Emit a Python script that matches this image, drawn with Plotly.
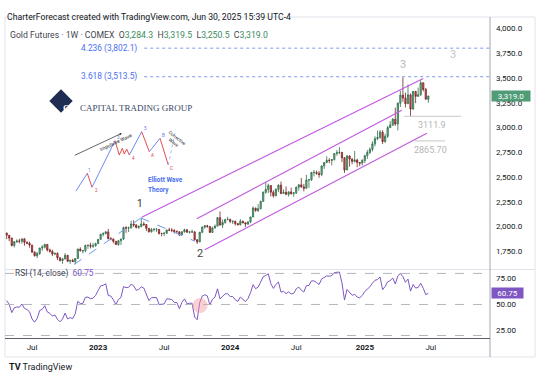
import numpy as np
import pandas as pd
import plotly.graph_objects as go

W, H = 540, 383
FONT = "Roboto, 'Liberation Sans', sans-serif"
SERIF = "'Liberation Serif', 'DejaVu Serif', serif"

# ---------------- data (weekly Gold Futures, COMEX) ----------------
first_week = "2022-04-25"
opens = [1934,1911,1883,1808,1846,1853,1850,1875,1840,1830,
         1812,1742,1704,1727,1782,1791,1818,1762,1749,1721,
         1728,1684,1655,1672,1709,1648,1657,1645,1676,1771,
         1754,1755,1809,1810,1800,1804,1826,1870,1921,1928,
         1945,1877,1874,1850,1817,1856,1874,1989,1983,1986,
         2025,2016,1990,1999,2025,2019,1981,1946,1969,1970,
         1970,1929,1929,1932,1964,1962,1960,1946,1946,1916,
         1947,1966,1942,1945,1945,1866,1845,1941,1994,2006,
         1999,1940,1984,2003,2089,2014,2041,2069,2071,2050,
         2051,2029,2018,2053,2038,2024,2046,2096,2186,2161,
         2180,2254,2345,2374,2413,2347,2311,2375,2418,2334,
         2345,2325,2349,2332,2339,2397,2421,2399,2386,2470,
         2472,2546,2546,2536,2524,2611,2646,2668,2667,2676,
         2737,2746,2749,2694,2571,2712,2681,2657,2672,2646,
         2640,2667,2715,2748,2779,2835,2887,2900,2953,2858,
         2911,2999,3026,3084,3035,3245,3328,3298,3241,3330,
         3187,3365,3315,3331,3452,3385,3284.3]
highs = [1937,1911,1884,1850,1870,1876,1877,1881,1848,1846,
         1812,1747,1742,1784,1812,1826,1824,1776,1766,1735,
         1738,1688,1682,1730,1712,1664,1674,1681,1776,1790,
         1763,1815,1815,1835,1834,1836,1871,1923,1941,1954,
         1975,1892,1875,1853,1862,1875,1998,2003,1998,2058,
         2063,2022,2010,2085,2048,2025,1985,1985,1985,1985,
         1965,1936,1942,1968,1987,1984,1972,1960,1950,1950,
         1978,1972,1953,1967,1953,1870,1945,2000,2016,2017,
         2005,1997,2019,2096,2152,2070,2078,2098,2079,2063,
         2060,2036,2075,2059,2038,2052,2098,2203,2190,2225,
         2259,2354,2448,2432,2417,2366,2385,2425,2454,2375,
         2404,2356,2393,2349,2402,2426,2490,2431,2522,2478,
         2549,2570,2565,2560,2618,2649,2709,2690,2678,2740,
         2772,2801,2753,2700,2721,2720,2690,2762,2684,2651,
         2681,2726,2772,2799,2862,2911,2968,2975,2972,2937,
         3017,3066,3095,3201,3255,3371,3509,3354,3435,3345,
         3367,3370,3404,3476,3453,3400,3319.5]
lows = [1872,1851,1797,1787,1833,1828,1825,1805,1821,1785,
        1732,1697,1680,1713,1754,1777,1747,1736,1700,1710,
        1660,1646,1622,1667,1640,1622,1641,1617,1674,1748,
        1728,1738,1775,1778,1784,1797,1823,1866,1900,1920,
        1870,1860,1830,1815,1805,1813,1863,1935,1944,1979,
        1995,1979,1975,1992,2004,1953,1939,1938,1949,1945,
        1918,1900,1902,1925,1954,1942,1929,1940,1903,1912,
        1937,1935,1928,1934,1858,1823,1840,1932,1975,1987,
        1935,1937,1980,2003,2010,1983,2027,2063,2034,2024,
        2009,2010,2010,2031,1993,2016,2033,2093,2148,2146,
        2174,2247,2331,2337,2303,2291,2304,2347,2326,2330,
        2316,2302,2321,2300,2327,2362,2392,2354,2382,2390,
        2460,2506,2523,2493,2508,2581,2640,2640,2617,2666,
        2714,2729,2650,2541,2569,2605,2629,2647,2599,2609,
        2616,2640,2683,2733,2758,2810,2872,2887,2833,2846,
        2895,2997,3014,3016,2971,3207,3260,3202,3237,3112,
        3180,3246,3310,3321,3364,3281,3250.5]
closes = [1911,1883,1808,1846,1853,1850,1875,1840,1830,1812,
          1742,1704,1727,1782,1791,1818,1762,1749,1721,1728,
          1684,1655,1672,1709,1648,1657,1645,1676,1771,1754,
          1755,1809,1810,1800,1804,1826,1870,1921,1928,1945,
          1877,1874,1850,1817,1856,1874,1989,1983,1986,2025,
          2016,1990,1999,2025,2019,1981,1946,1969,1970,1970,
          1929,1929,1932,1964,1962,1960,1946,1946,1916,1947,
          1966,1942,1945,1945,1866,1845,1941,1994,2006,1999,
          1940,1984,2003,2089,2014,2041,2069,2071,2050,2051,
          2029,2018,2053,2038,2024,2046,2096,2186,2161,2180,
          2254,2345,2374,2413,2347,2311,2375,2418,2334,2345,
          2325,2349,2332,2339,2397,2421,2399,2386,2470,2472,
          2546,2546,2536,2524,2611,2646,2668,2667,2676,2737,
          2746,2749,2694,2571,2712,2681,2657,2672,2646,2640,
          2667,2715,2748,2779,2835,2887,2900,2953,2858,2911,
          2999,3026,3084,3035,3245,3328,3298,3241,3330,3187,
          3365,3315,3331,3452,3385,3287,3319.0]
# weekly closes before the visible window (Jul 2021 - Apr 2022), used only to warm up RSI(14)
rsi_history_closes = [1808,1815,1802,1817,1763,1781,1784,1819,1833,1792,1754,1751,1761,
                      1757,1768,1796,1783,1818,1868,1852,1788,1784,1783,1805,1811,1829,
                      1798,1817,1835,1787,1808,1842,1899,1889,1969,1985,1921,1958,1924,
                      1946,1974,1934]
rsi_last_display = 60.75

price_ticks = [1750, 2000, 2250, 2500, 2750, 3000, 3250, 3500, 3750, 4000]
rsi_ticks = [25, 50, 75]
rsi_bands = [80, 50, 20]
time_tick_dates = ["2022-07-04", "2023-01-02", "2023-07-03", "2024-01-01",
                   "2024-07-01", "2025-01-06", "2025-07-07"]
time_tick_labels = ["Jul", "<b>2023</b>", "Jul", "<b>2024</b>", "Jul", "<b>2025</b>", "Jul"]

fib_levels = [("4.236", 3802.1), ("3.618", 3513.5)]
fib_start = "2023-05-09"
channel_lines = [  # (date0, price0, date1, price1)
    ("2023-05-02", 2094, "2025-06-16", 3496),
    ("2023-10-01", 2078, "2025-04-18", 3175),
    ("2023-10-23", 1764, "2025-06-26", 2942),
]
wave_path = [("2022-10-28", 1616), ("2023-04-30", 2086), ("2023-09-26", 1851)]
wave_labels = [("1", "2023-04-28", 2233, 10, "#333333"),
               ("2", "2023-10-10", 1727, 11, "#444444"),
               ("3", "2025-04-21", 3638, 11, "#b8b8b8"),
               ("3", "2025-09-05", 3743, 11, "#c4c4c4")]
level_lines = [(3111.9, "3111.9", "2025-04-24", "2025-09-28", "2025-07-10"),
               (2865.7, "2865.70", "2025-05-24", "2025-08-15", "2025-07-05")]

x_range = ["2022-04-20 10:00", "2025-12-17"]
y_range = [1565, 4117]
rsi_range = [17.1, 83.3]

dates = pd.date_range(first_week, periods=len(closes), freq="7D")


def rsi_wilder(values, period=14):
    v = np.asarray(values, float)
    d = np.diff(v)
    gain = np.clip(d, 0, None)
    loss = np.clip(-d, 0, None)
    ag = gain[:period].mean()
    al = loss[:period].mean()
    out = [np.nan] * period
    out.append(100 - 100 / (1 + ag / al))
    for i in range(period, len(d)):
        ag = (ag * (period - 1) + gain[i]) / period
        al = (al * (period - 1) + loss[i]) / period
        out.append(100.0 if al == 0 else 100 - 100 / (1 + ag / al))
    return np.array(out)


rsi_all = rsi_wilder(rsi_history_closes + closes)
rsi = rsi_all[len(rsi_history_closes):]


def px(x):
    return x / W


def py(y):
    return 1 - y / H


fig = go.Figure()
fig.add_trace(go.Candlestick(
    x=dates, open=opens, high=highs, low=lows, close=closes,
    xaxis="x", yaxis="y", whiskerwidth=0,
    increasing=dict(line=dict(color="#2f6f4d", width=0.8), fillcolor="#73b08e"),
    decreasing=dict(line=dict(color="#7a2222", width=0.8), fillcolor="#d85a56"),
    hoverinfo="skip", showlegend=False))
fig.add_trace(go.Scatter(x=dates, y=rsi, xaxis="x2", yaxis="y2", mode="lines",
                         line=dict(color="#7e57c2", width=1), hoverinfo="skip", showlegend=False))

shapes = []
ann = []

# frame and separators
shapes.append(dict(type="rect", xref="paper", yref="paper", x0=px(5), x1=px(535), y0=py(357), y1=py(17),
                   line=dict(color="#e0e3eb", width=1)))
shapes.append(dict(type="line", xref="paper", yref="paper", x0=px(5), x1=px(535), y0=py(269.5), y1=py(269.5),
                   line=dict(color="#e0e3eb", width=1)))
shapes.append(dict(type="line", xref="paper", yref="paper", x0=px(490), x1=px(490), y0=py(357), y1=py(17),
                   line=dict(color="#a3a6af", width=1)))
shapes.append(dict(type="line", xref="paper", yref="paper", x0=px(5), x1=px(490), y0=py(338.5), y1=py(338.5),
                   line=dict(color="#5d606b", width=1)))

# RSI bands
for b in rsi_bands:
    shapes.append(dict(type="line", xref="paper", yref="y2", x0=px(5), x1=px(490), y0=b, y1=b,
                       line=dict(color="#b2b5be", width=1, dash="dash")))
# pink highlight circle on RSI
shapes.append(dict(type="circle", xref="x", yref="y2", xsizemode="pixel", ysizemode="pixel",
                   xanchor="2023-10-10", yanchor=49, x0=-7.5, x1=7.5, y0=-7.5, y1=7.5,
                   fillcolor="rgba(242,150,160,0.45)", line=dict(width=0)))

# Fibonacci extension levels
for lab, lvl in fib_levels:
    shapes.append(dict(type="line", xref="x", yref="y", x0=fib_start, x1=x_range[1], y0=lvl, y1=lvl,
                       line=dict(color="#7f9cf3", width=1, dash="dot")))
    ann.append(dict(xref="paper", yref="y", x=px(139), y=lvl, xanchor="right", yanchor="middle",
                    text=f"{lab} ({lvl:,.1f})", showarrow=False,
                    font=dict(size=8.4, color="#4a6ff0", family=FONT)))

# channel lines
for d0, p0, d1, p1 in channel_lines:
    shapes.append(dict(type="line", xref="x", yref="y", x0=d0, y0=p0, x1=d1, y1=p1,
                       line=dict(color="#c158e0", width=1.1)))
# wave 1-2 dashed path
for (d0, p0), (d1, p1) in zip(wave_path[:-1], wave_path[1:]):
    shapes.append(dict(type="line", xref="x", yref="y", x0=d0, y0=p0, x1=d1, y1=p1,
                       line=dict(color="#6a98f0", width=1, dash="dash")))
for t, d, p, s, c in wave_labels:
    ann.append(dict(xref="x", yref="y", x=d, y=p, text=t, showarrow=False,
                    font=dict(size=s, color=c, family=FONT)))
# level lines
for lvl, txt, d0, d1, dl in level_lines:
    shapes.append(dict(type="line", xref="x", yref="y", x0=d0, x1=d1, y0=lvl, y1=lvl,
                       line=dict(color="#d2d2d2", width=1.3)))
    ann.append(dict(xref="x", yref="y", x=dl, y=lvl, yanchor="top", yshift=-2, text=txt, showarrow=False,
                    font=dict(size=9, color="#b5b5b5", family=FONT)))

# ---- logo ----
def pixpath(pts, close=False):
    s = "M " + " L ".join(f"{px(x):.5f},{py(y):.5f}" for x, y in pts)
    return s + (" Z" if close else "")


shapes.append(dict(type="path", xref="paper", yref="paper", layer="below",
                   path=pixpath([(61, 89.3), (72.7, 101), (61, 112.7), (49.3, 101)], True),
                   fillcolor="#1f2d52", line=dict(width=0)))
ann.append(dict(xref="paper", yref="paper", x=px(61), y=py(101.5), text="<b>CT</b>", showarrow=False,
                font=dict(size=9, color="#ffffff", family=SERIF)))
ann.append(dict(xref="paper", yref="paper", x=px(77.5), y=py(101), xanchor="left", text="CAPITAL TRADING GROUP",
                showarrow=False, font=dict(size=9, color="#3a4868", family=SERIF)))

# ---- Elliott wave sketch ----
blue_legs = [[(76, 191), (87.3, 173.3)], [(92, 187.3), (115, 140.7)],
             [(129.3, 155), (141.7, 131.7)], [(149.3, 151.7), (160, 138.3)]]
red_legs = [[(87.3, 173.3), (92, 187.3)],
            [(115, 140.7), (119.3, 155), (122.3, 148.3), (124.3, 154), (126.7, 149), (129.3, 155)],
            [(141.7, 131.7), (149.3, 151.7)], [(160, 138.3), (168.3, 165)]]
for leg in blue_legs:
    shapes.append(dict(type="path", xref="paper", yref="paper", path=pixpath(leg),
                       line=dict(color="#5b7cf0", width=0.9)))
for leg in red_legs:
    shapes.append(dict(type="path", xref="paper", yref="paper", path=pixpath(leg),
                       line=dict(color="#e03a3a", width=0.9)))
shapes.append(dict(type="path", xref="paper", yref="paper", path=pixpath([(168.3, 165), (175, 133.3)]),
                   line=dict(color="#9fb4f5", width=0.9, dash="dot")))
for t, x, y, c in [("1", 86, 170, "#5b7cf0"), ("2", 93, 190.5, "#e03a3a"), ("3", 115, 137.5, "#5b7cf0"),
                   ("4", 130, 158.5, "#e03a3a"), ("5", 141.7, 128.5, "#5b7cf0"), ("A", 149.3, 155, "#e03a3a"),
                   ("B", 160, 135, "#5b7cf0"), ("C", 168.3, 168.5, "#e03a3a")]:
    ann.append(dict(xref="paper", yref="paper", x=px(x), y=py(y), text=t, showarrow=False,
                    font=dict(size=4.5, color=c, family=FONT)))
ann.append(dict(xref="paper", yref="paper", x=px(121.7), y=py(133.3), ax=-48.4, ay=22.7, text="",
                showarrow=True, arrowhead=2, arrowsize=0.6, arrowwidth=0.7, arrowcolor="#222222"))
ann.append(dict(xref="paper", yref="paper", x=px(96), y=py(141.5), text="Impulsive Wave", textangle=-25,
                showarrow=False, font=dict(size=5, color="#222222", family=FONT)))
ann.append(dict(xref="paper", yref="paper", x=px(161), y=py(127), text="Corrective<br>Wave", textangle=38,
                showarrow=False, font=dict(size=4.5, color="#222222", family=FONT)))
ann.append(dict(xref="paper", yref="paper", x=px(146), y=py(180), text="<b>Elliott Wave</b>", showarrow=False,
                font=dict(size=6.5, color="#4a6ff0", family=FONT)))
ann.append(dict(xref="paper", yref="paper", x=px(146), y=py(189.5), text="<b>Theory</b>", showarrow=False,
                font=dict(size=6.5, color="#4a6ff0", family=FONT)))

# ---- header texts ----
ann.append(dict(xref="paper", yref="paper", x=px(5), y=py(10), xanchor="left", showarrow=False,
                text="CharterForecast created with TradingView.com, Jun 30, 2025 15:39 UTC-4",
                font=dict(size=8.7, color="#131722", family=FONT)))
G = "#3b8a5e"
hdr = ("Gold Futures · 1W · COMEX&nbsp;&nbsp;"
       f"O<span style='color:{G}'>{opens[-1]:,.1f}</span>&nbsp;&nbsp;"
       f"H<span style='color:{G}'>{highs[-1]:,.1f}</span>&nbsp;&nbsp;"
       f"L<span style='color:{G}'>{lows[-1]:,.1f}</span>&nbsp;&nbsp;"
       f"C<span style='color:{G}'>{closes[-1]:,.1f}</span>")
ann.append(dict(xref="paper", yref="paper", x=px(8), y=py(28.3), xanchor="left", showarrow=False,
                text=hdr, font=dict(size=8.7, color="#434651", family=FONT)))
ann.append(dict(xref="paper", yref="paper", x=px(13), y=py(281), xanchor="left", showarrow=False,
                text=f"RSI (14, close)&nbsp;&nbsp;<span style='color:#7e57c2'>{rsi_last_display:.2f}</span>",
                font=dict(size=8.4, color="#434651", family=FONT)))

# last value labels on the scales
ann.append(dict(xref="paper", yref="y", x=px(490.5), y=closes[-1], xanchor="left", showarrow=False,
                text=f"{closes[-1]:,.1f}", bgcolor="#4f9c76", width=38, height=10, borderpad=0,
                font=dict(size=8, color="white", family=FONT)))
ann.append(dict(xref="paper", yref="y2", x=px(490.5), y=rsi_last_display, xanchor="left", showarrow=False,
                text=f"{rsi_last_display:.2f}", bgcolor="#7e57c2", width=31, height=10, borderpad=0,
                font=dict(size=8, color="white", family=FONT)))

# TradingView footer
ann.append(dict(xref="paper", yref="paper", x=px(7), y=py(373.5), xanchor="left", showarrow=False,
                text="<b>TV</b> TradingView", font=dict(size=9, color="#131722", family=FONT)))

fig.update_layout(
    width=W, height=H, margin=dict(l=0, r=0, t=0, b=0),
    paper_bgcolor="white", plot_bgcolor="rgba(0,0,0,0)", showlegend=False,
    shapes=shapes, annotations=ann,
    xaxis=dict(domain=[px(5), px(490)], range=x_range, anchor="y", showticklabels=False,
               showgrid=False, zeroline=False, rangeslider=dict(visible=False), ticks=""),
    yaxis=dict(domain=[py(269.5), py(17)], range=y_range, anchor="x", side="right",
               tickvals=price_ticks, ticktext=[f"{v:,.1f}" for v in price_ticks],
               showgrid=False, zeroline=False, ticks="", ticklabelstandoff=5,
               tickfont=dict(size=8, color="#131722", family=FONT)),
    xaxis2=dict(domain=[px(5), px(490)], range=x_range, anchor="y2", matches="x",
                tickvals=time_tick_dates, ticktext=time_tick_labels, showgrid=False, zeroline=False,
                ticks="", ticklabelstandoff=2, tickfont=dict(size=8, color="#131722", family=FONT)),
    yaxis2=dict(domain=[py(338.5), py(270)], range=rsi_range, anchor="x2", side="right",
                tickvals=rsi_ticks, ticktext=[f"{v:.2f}" for v in rsi_ticks],
                showgrid=False, zeroline=False, ticks="", ticklabelstandoff=5,
                tickfont=dict(size=8, color="#131722", family=FONT)),
)

fig.write_html("out.html", config={"displayModeBar": False},
               post_script="document.body.style.margin='0px';document.body.style.overflow='hidden';")
